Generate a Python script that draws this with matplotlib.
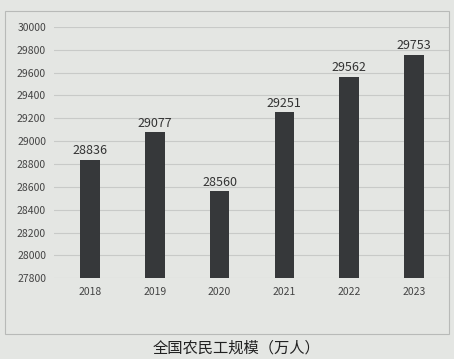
import matplotlib.pyplot as plt
from matplotlib.patches import Rectangle

plt.rcParams['font.family'] = ['Noto Sans CJK SC', 'DejaVu Sans']

years = ["2018", "2019", "2020", "2021", "2022", "2023"]
values = [28836, 29077, 28560, 29251, 29562, 29753]
yticks = list(range(27800, 30001, 200))

fig = plt.figure(figsize=(4.54, 3.59), dpi=100, facecolor='#e4e6e3')
ax = fig.add_axes([0.12, 0.225, 0.87, 0.70])
ax.set_facecolor('#e4e6e3')

bars = ax.bar(range(len(years)), [v - 27800 for v in values], bottom=27800,
              width=0.3, color='#36383a', zorder=3)
for i, v in enumerate(values):
    ax.text(i, v + 25, str(v), ha='center', va='bottom', fontsize=9, color='#333333')

ax.set_ylim(27800, 30000)
ax.set_xlim(-0.55, 5.55)
ax.set_yticks(yticks)
ax.set_xticks(range(len(years)))
ax.set_xticklabels(years)
ax.tick_params(axis='both', length=0, labelsize=7.5, labelcolor='#444444')
ax.tick_params(axis='y', pad=6)
ax.tick_params(axis='x', pad=6)
ax.grid(axis='y', color='#c8cac8', linewidth=0.8, zorder=0)
for s in ax.spines.values():
    s.set_visible(False)

fig.patches.append(Rectangle((0.01, 0.07), 0.98, 0.9, transform=fig.transFigure,
                             fill=False, edgecolor='#b8bab8', linewidth=0.8))
fig.text(0.52, 0.03, "全国农民工规模（万人）", ha='center', va='center',
         fontsize=11, color='#222222')

fig.savefig("out.png", dpi=100, facecolor=fig.get_facecolor())
